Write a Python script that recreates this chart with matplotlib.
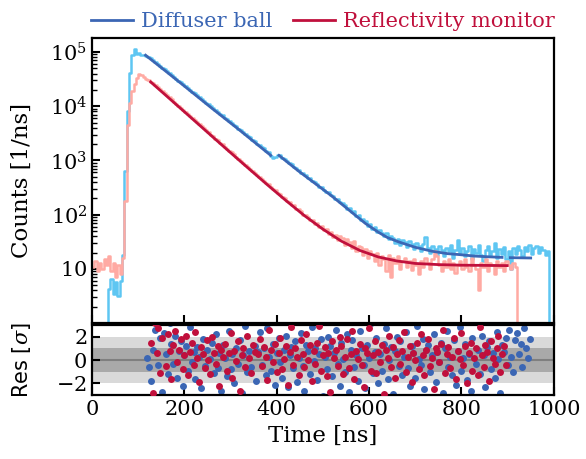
import numpy as np
import matplotlib
matplotlib.use('Agg')
import matplotlib.pyplot as plt
from matplotlib.ticker import FixedLocator, FixedFormatter, LogLocator, NullFormatter

plt.rcParams['font.family'] = 'DejaVu Serif'
plt.rcParams['mathtext.fontset'] = 'dejavuserif'

# ---------------- data ----------------
t_bins = np.arange(0, 1000, 5)

diffuser_counts = [
    0.5, 0.5, 0.5, 0.5, 0.5, 0.5, 0.5,
    4.2, 6.5, 3.5, 5.8, 3.2, 6.0, 18,
    650, 8200, 4.1e4, 8.6e4, 1.13e5, 9.2e4, 9.5e4, 8.9e4, 8.6e4, 8.3e4,
    8.1e4, 7.6e4, 7.0e4, 6.5e4, 6.05e4, 5.55e4, 5.1e4, 4.8e4, 4.4e4, 4.05e4,
    3.78e4, 3.48e4, 3.22e4, 2.96e4, 2.76e4, 2.53e4, 2.36e4, 2.17e4, 2.01e4, 1.85e4,
    1.73e4, 1.58e4, 1.48e4, 1.36e4, 1.27e4, 1.16e4, 1.08e4, 9.9e3, 9.25e3, 8.45e3,
    7.9e3, 7.2e3, 6.75e3, 6.15e3, 5.8e3, 5.25e3, 4.95e3, 4.5e3, 4.25e3, 3.85e3,
    3.65e3, 3.28e3, 3.1e3, 2.8e3, 2.66e3, 2.4e3, 2.28e3, 2.05e3, 1.95e3, 1.75e3,
    1.67e3, 1.5e3, 1.42e3, 1.2e3, 1.13e3, 1.15e3, 1.28e3, 1.25e3, 1.12e3,
    1070, 960, 915, 850, 760, 720, 672, 598, 575, 540,
    482, 468, 418, 402, 372, 330, 325, 290, 265, 262,
    228, 225, 196, 195, 168, 163, 150, 128, 132, 112,
    115, 95, 97, 80, 84, 75, 63, 68, 55, 60,
    48, 52, 46, 40, 45, 35, 40, 37, 30, 36,
    28, 34, 31, 25, 33, 29, 23, 30, 27, 21,
    29, 38, 24, 20, 27, 23, 18, 26, 22, 17,
    24, 21, 28, 16, 22, 34, 19, 24, 17, 21,
    26, 15, 23, 20, 28, 18, 14, 22, 26, 17,
    21, 30, 16, 23, 19, 25, 15, 21, 10, 24,
    19, 27, 22, 17, 25, 21, 28, 19, 24, 27,
    20, 25, 22, 18, 21,
    0.5, 0.5,
]

monitor_counts = [
    11, 14, 9, 13, 10, 15, 12, 17, 9, 13, 7, 12, 8, 16,
    180, 4500, 1.15e4, 1.9e4, 2.6e4, 3.3e4, 3.85e4, 3.7e4, 3.4e4, 3.2e4, 3.0e4, 2.85e4,
    2.7e4, 2.43e4, 2.25e4, 2.04e4, 1.89e4, 1.72e4, 1.58e4, 1.45e4, 1.33e4, 1.21e4,
    1.12e4, 1.02e4, 9.4e3, 8.55e3, 7.9e3, 7.2e3, 6.65e3, 6.05e3, 5.6e3, 5.07e3,
    4.7e3, 4.26e3, 3.95e3, 3.58e3, 3.33e3, 3.0e3, 2.8e3, 2.52e3, 2.36e3, 2.12e3,
    1.98e3, 1.8e3, 1.65e3, 1.52e3, 1.4e3, 1.29e3, 1.17e3, 1.08e3, 990, 905,
    840, 755, 705, 640, 595, 538, 505, 452, 425, 382,
    360, 330, 296, 282, 250, 238, 212, 205, 176, 172,
    150, 148, 128, 126, 117, 100, 99, 92, 80, 81,
    68, 70, 58, 63, 52, 55, 44, 48, 38, 42,
    34, 40, 37, 28, 35, 31, 24, 33, 21, 27,
    25, 18, 23, 16, 21, 19, 14, 20, 12, 17,
    15, 9, 18, 7, 16, 13, 17, 10, 14, 16,
    11, 14, 9.5, 15, 12, 8, 14, 11, 16, 13,
    10, 15, 21, 17, 12, 9, 14, 11, 15, 10,
    13, 8.5, 12, 14, 10, 15, 11, 9, 16, 12,
    10, 4.0, 13, 11, 15, 9, 13, 12, 8, 14,
    11, 13, 9, 14, 12, 10, 13, 11,
    0.5, 0.5, 0.5, 0.5, 0.5, 0.5, 0.5, 0.5,
    0.5, 0.5, 0.5, 0.5, 0.5, 0.5, 0.5, 0.5,
]

# fits (NaN = excluded region)
diffuser_fit_t = [116, 160, 200, 260, 320, 387, 396,
                  405, 420, 448, 470, 500, 520, 550, 570, 592, 620, 640, 664,
                  700, 737, 770, 794, 830, 860, 888, 897, 906, 950]
diffuser_fit_v = [8.7e4, 4.4e4, 2.35e4, 9.1e3, 3.6e3, 1.24e3, np.nan,
                  1235, 977, 630, 456, 293, 218, 135, 98, 69, 47.5, 37.8, 31.5,
                  25, 21.1, 19.1, 18.4, 17.2, 16.7, 16.3, np.nan, 16.1, 15.9]

monitor_fit_t = [127, 200, 260, 300, 340, 380, 420, 460, 500, 540, 580, 620,
                 660, 700, 750, 800, 850, 899]
monitor_fit_v = [2.8e4, 7.9e3, 2.78e3, 1.39e3, 700, 354, 182, 96, 54, 32.5,
                 21.9, 16.6, 14.0, 12.6, 12.0, 11.7, 11.6, 11.5]

# residuals
diffuser_res_t = np.arange(120, 949, 4)
diffuser_res = [
    0.2, -0.6, -1.8, 0.9, 2.6, 3.1, -0.4, 1.9, -2.7, 2.3, 0.5, -1.2, 3.2, 1.4, -0.3, 2.1, -1.5, 0.8, 1.6, -2.2,
    0.4, 1.2, -0.9, 2.8, -0.2, 0.7, -1.6, 1.1, 0.3, -2.4, 1.8, -0.5, 0.9, -3.2, 0.1, 1.5, -1.1, 2.2, -0.7, 0.6,
    -2.6, 1.3, 0.2, -1.4, 2.5, -0.8, 0.5, -2.0, 1.0, -0.3, 1.7, -2.8, 0.4, 2.9, -1.0, 0.8, -0.6, -3.4, 1.2, -1.8,
    0.7, 2.4, -0.4, 1.0, -1.3, 2.7, 0.3, -0.9, 1.4, -2.1, 0.6, 1.9, -0.2, -1.5, 0.9, 2.1, -2.3, 0.4, 1.1, -0.7,
    1.6, -1.9, 0.2, 2.3, -0.5, -2.6, 1.3, 0.8, -1.2, 2.8, -0.1, 1.0, -1.7, 0.5, 1.8, -3.1, 0.3, -0.8, 2.0, 1.2,
    -1.4, 0.6, 2.6, -0.3, -2.2, 1.5, 0.1, -1.0, 2.2, -2.7, 0.9, 1.7, -0.6, 0.4, -1.8, 2.5, 1.0, -0.4, -2.4, 1.3,
    0.2, 3.2, -1.1, 0.7, 1.9, -2.0, 0.5, -0.9, 1.4, 2.7, -1.6, 0.0, 1.1, -2.9, 0.8, 2.0, -0.5, 1.6, -1.3, 0.3,
    2.4, -0.7, -2.2, 1.2, 0.6, -1.5, 2.9, 0.1, -0.4, 1.8, -2.5, 0.9, 1.3, -1.0, 0.4, 2.2, -1.9, 0.7, -0.2, 1.5,
    -2.8, 1.0, 2.5, -0.6, 0.3, -1.3, 1.7, -2.1, 0.8, 2.8, -0.9, 0.2, 1.4, -1.7, 0.5, -2.6, 1.9, 3.3, -0.3, 0.9,
    -1.2, 2.1, 0.4, -2.3, 1.1, 1.6, -0.8, 0.6, -1.5, 2.4, 0.1, -2.8, 1.3, 0.7, 1.9, -0.4, 2.6, 0.3, -1.0, 1.7,
    2.3, 0.5, 1.4, -0.6, 2.7, 1.0, 0.2, 1.8,
]
monitor_res_t = np.arange(128, 897, 4)
monitor_res = [
    1.5, -2.8, 3.2, 0.6, 2.7, -1.1, 1.9, 3.4, -0.5, 2.2, 0.8, -1.6, 1.3, 2.5, -0.2, 0.9, 1.8, -0.8, 0.4, 2.1,
    -1.3, 0.7, 1.5, -0.4, 2.4, 0.2, -1.9, 1.1, 0.5, -0.7, 1.7, 0.0, -1.2, 2.0, 0.6, -0.3, 1.2, -2.2, 0.9, 0.3,
    1.4, -0.9, 0.6, 2.3, -1.5, 0.8, -0.1, 1.6, -2.6, 0.4, 1.0, -0.6, 2.1, 0.2, -1.1, 1.3, 0.7, -3.3, 0.5, 1.8,
    -0.5, 1.1, 0.3, -1.7, 2.6, 0.9, -0.2, 1.4, -1.0, 0.6, 1.9, -0.8, 0.1, 1.2, -2.1, 0.7, 2.8, -0.4, 1.0, 0.3,
    -1.3, 1.7, 0.5, -0.6, 2.2, 0.0, 1.3, -1.8, 0.8, -0.3, 1.5, 2.9, -0.9, 0.4, 1.1, -1.4, 0.6, -2.7, 1.6, 0.2,
    0.9, -0.5, 2.0, 1.2, -1.2, 0.3, 1.8, -0.7, 0.5, 2.5, -1.6, 0.8, 0.1, 1.4, -0.4, -2.3, 1.0, 0.6, 2.7, -0.9,
    0.4, 1.6, -1.1, 0.7, -0.2, 1.3, -2.9, 0.9, 0.2, 2.1, -0.6, 1.1, -1.5, 0.5, 1.7, -0.3, 0.8, 2.4, -1.0, 0.3,
    1.2, -1.9, 0.6, 0.0, 1.5, -0.8, 2.2, 0.4, -1.3, 0.9, 1.8, -0.5, 0.2, -2.5, 1.0, 0.7, -0.2, 1.4, 2.6, -1.1,
    0.5, 1.1, -0.7, 0.3, 1.9, -1.6, 0.8, 0.1, 2.3, -0.4, 1.2, -2.0, 0.6, 1.5, -0.9, 0.2, 1.0, -1.3, 2.8, 0.4,
    -0.6, 1.3, 0.7, -1.8, 1.6, 0.2, -0.3, 1.0, 2.1, -1.0, 0.5, 1.2, -0.4,
]

labels = ["Diffuser ball", "Reflectivity monitor"]
ytick_vals = [10, 1e2, 1e3, 1e4, 1e5]
ytick_labels = [r"$\mathdefault{10}$", r"$\mathdefault{10^{2}}$", r"$\mathdefault{10^{3}}$",
                r"$\mathdefault{10^{4}}$", r"$\mathdefault{10^{5}}$"]
xticks = [0, 200, 400, 600, 800, 1000]
res_ticks = [-2, 0, 2]

# ---------------- colours ----------------
c_blue_data = '#5ec6f2'
c_red_data = '#ffaaa3'
c_blue = '#3b66b4'
c_red = '#c0103c'

fig = plt.figure(figsize=(5.86, 4.59), dpi=100)
ax = fig.add_axes([0.157, 0.296, 0.788, 0.621])
axr = fig.add_axes([0.157, 0.139, 0.788, 0.153], sharex=ax)

ax.step(t_bins, diffuser_counts, where='post', color=c_blue_data, lw=1.8, zorder=2)
ax.step(t_bins, monitor_counts, where='post', color=c_red_data, lw=1.8, zorder=2)
ax.plot(diffuser_fit_t, diffuser_fit_v, color=c_blue, lw=2.0, zorder=3, label=labels[0])
ax.plot(monitor_fit_t, monitor_fit_v, color=c_red, lw=2.0, zorder=3, label=labels[1])

ax.set_yscale('log')
ax.set_ylim(1.0, 1.8e5)
ax.set_xlim(0, 1000)
ax.yaxis.set_major_locator(FixedLocator(ytick_vals))
ax.yaxis.set_major_formatter(FixedFormatter(ytick_labels))
ax.yaxis.set_minor_locator(LogLocator(base=10, subs=np.arange(2, 10), numticks=20))
ax.yaxis.set_minor_formatter(NullFormatter())
ax.set_ylabel("Counts [1/ns]", fontsize=16.5)
ax.tick_params(axis='both', which='major', direction='in', length=6, width=1.5, labelsize=15)
ax.tick_params(axis='y', which='minor', direction='in', length=3.5, width=1.0)
ax.tick_params(axis='x', labelbottom=False)
for s in ax.spines.values():
    s.set_linewidth(1.6)

leg = ax.legend(loc='lower center', bbox_to_anchor=(0.5, 0.995), ncol=2, frameon=False,
                fontsize=15, handlelength=2.0, handletextpad=0.4, columnspacing=1.0,
                borderaxespad=0.0)
for txt, col in zip(leg.get_texts(), [c_blue, c_red]):
    txt.set_color(col)

# residuals
axr.axhspan(-2, 2, color='#d9d9d9', lw=0, zorder=0)
axr.axhspan(-1, 1, color='#a9a9a9', lw=0, zorder=0)
axr.axhline(0, color='#7f7f7f', lw=1.5, zorder=1)
axr.plot(diffuser_res_t, diffuser_res, 'o', color=c_blue, ms=5.0, mew=0, zorder=2)
axr.plot(monitor_res_t, monitor_res, 'o', color=c_red, ms=5.0, mew=0, zorder=3)
axr.set_ylim(-3, 3)
axr.set_yticks(res_ticks)
axr.set_yticklabels([r"$\mathdefault{-2}$", r"$\mathdefault{0}$", r"$\mathdefault{2}$"])
axr.set_xticks(xticks)
axr.set_xlim(0, 1000)
axr.tick_params(axis='both', which='major', direction='in', length=6, width=1.5, labelsize=15)
axr.set_xlabel("Time [ns]", fontsize=16.5)
axr.set_ylabel(r"Res [$\sigma$]", fontsize=15, fontfamily='DejaVu Sans')
for s in axr.spines.values():
    s.set_linewidth(1.6)

ax.yaxis.set_label_coords(-0.128, 0.5)
axr.yaxis.set_label_coords(-0.128, 0.5)

fig.savefig('out.png', dpi=100)
